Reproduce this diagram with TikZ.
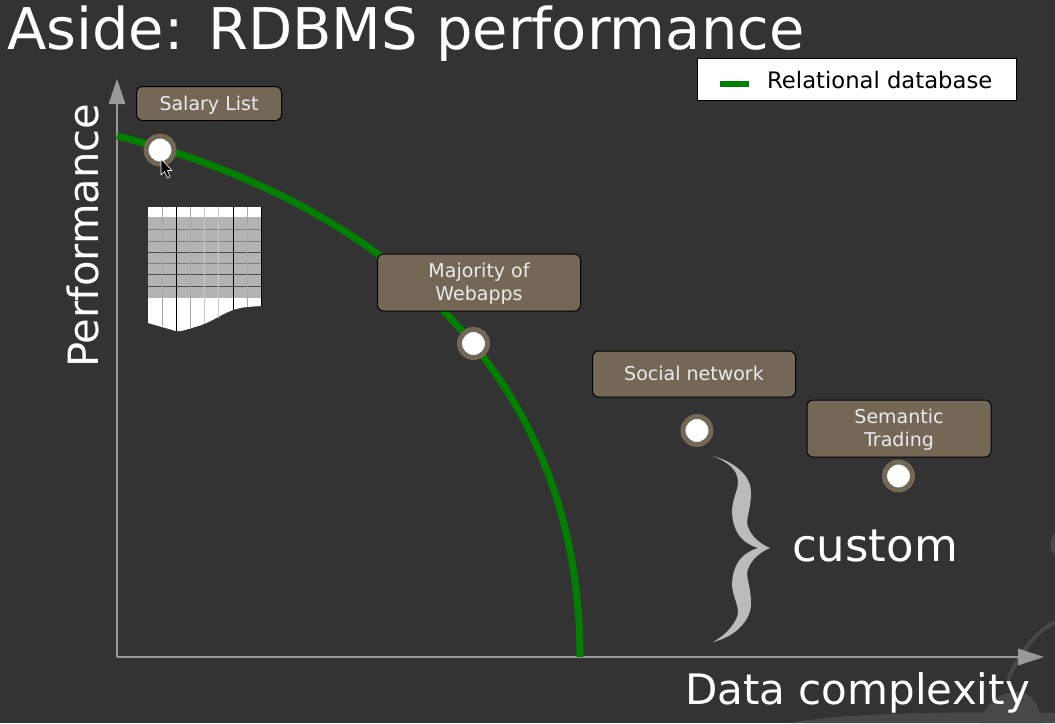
\documentclass[tikz,border=0pt]{standalone}
\usepackage{fontspec}
\setmainfont{DejaVu Sans}
\usetikzlibrary{arrows.meta}
\definecolor{bgc}{HTML}{333333}
\definecolor{boxc}{HTML}{736856}
\definecolor{axisc}{HTML}{999999}
\definecolor{greenc}{HTML}{007F00}
\definecolor{bracec}{HTML}{BBBBBB}
\definecolor{faintc}{HTML}{484848}
\definecolor{tabgray}{HTML}{B3B3B3}
\newcommand\lbltxt[1]{\raisebox{-2pt}[\height][\depth]{\begin{tabular}{@{}c@{}}#1\end{tabular}}}
\tikzset{
  x=1pt,y=-1pt,
  labelbox/.style={draw=black,line width=1pt,fill=boxc,rounded corners=6pt,text=white!92!black,font=\fontsize{19}{23}\selectfont,inner sep=0pt},
  dot/.style={circle,draw=boxc,line width=5pt,fill=white,minimum size=28pt,inner sep=0pt},
  axisline/.style={draw=axisc,line width=2.6pt},
  bigtext/.style={text=white,inner sep=0pt,anchor=base west},
}
\begin{document}
\begin{tikzpicture}
\useasboundingbox (0,0) rectangle (1055,723);
\fill[bgc] (0,0) rectangle (1055,723);
% faint background swirl
\draw[faintc,line width=4pt] (1055,622) .. controls (1035,632) and (1018,655) .. (1008,680);
\fill[faintc] (980,723) .. controls (985,700) and (1005,690) .. (1022,692) .. controls (1035,697) and (1040,708) .. (1042,723) -- cycle;
\fill[faintc] (790,723) .. controls (850,712) and (950,712) .. (1055,713) -- (1055,723) -- cycle;
\fill[faintc] (1055,532) .. controls (1049,540) and (1049,550) .. (1055,556) -- cycle;
% axes
\coordinate (origin) at (117,657);
\coordinate (ytip) at (117,79);
\coordinate (xtip) at (1044,657);
\draw[axisline] (origin) -- (117,100);
\draw[axisline] (origin) -- (1022,657);
\fill[axisc] (ytip) -- (125.5,104) -- (108.5,104) -- cycle;
\fill[axisc] (xtip) -- (1018,648.5) -- (1018,665.5) -- cycle;
% curve
\coordinate (cstart) at (117,136);
\coordinate (cend) at (580,657);
\draw[greenc,line width=7pt] (cstart) .. controls (335,190) and (580,340) .. (cend);
% table
\fill[white] (148,207) -- (261,207) -- (261,306) -- (247,307) .. controls (225,309) and (215,322) .. (195,327) .. controls (185,330) and (180,332) .. (176,331) -- (148,323) -- cycle;
\fill[tabgray] (148,217) rectangle (261,298);
\foreach \yy/\cc in {229/gray,241/gray,252/black!70,263/gray,274/black!70,286/black!70}{
  \draw[\cc,line width=1pt] (148,\yy) -- (261,\yy);
}
\foreach \xx/\yb/\cc in {162/326/gray!70,176/331/black,190/329/gray!70,204/324/gray!45,218/318/gray!45,233/310/black,247/307/gray!70,261/306/black}{
  \draw[\cc,line width=0.9pt] (\xx,207) -- (\xx,\yb);
}
% labels
\node[labelbox,minimum width=145pt,minimum height=34pt] (salary) at (209,103.5) {\lbltxt{Salary List}};
\node[labelbox,minimum width=203pt,minimum height=57pt] (webapps) at (479,282.5) {\lbltxt{Majority of\\Webapps}};
\node[labelbox,minimum width=203pt,minimum height=46pt] (social) at (694,374) {\lbltxt{Social network}};
\node[labelbox,minimum width=184pt,minimum height=57pt] (semantic) at (899,428.5) {\lbltxt{Semantic\\Trading}};
% dots
\node[dot] (d1) at (160,150) {};
\node[dot] (d2) at (473.5,343.5) {};
\node[dot] (d3) at (697,430.5) {};
\node[dot] (d4) at (898.5,476) {};
% cursor
\draw[white,fill=black,line width=0.6pt,line join=round] (161,159) -- (161,175) -- (164.5,171.5) -- (167.5,178) -- (170,176.5) -- (167.5,170.5) -- (172,170.5) -- cycle;
% brace
\fill[bracec] (713,456) .. controls (738,463) and (751,478) .. (751,492) .. controls (751,510) and (745,520) .. (748,527) .. controls (751,535) and (758,543) .. (770,548)
  .. controls (758,553) and (751,561) .. (748,569) .. controls (745,576) and (751,586) .. (751,604) .. controls (751,618) and (738,636) .. (713,642)
  .. controls (728,634) and (738,620) .. (738,612) .. controls (738,604) and (732,594) .. (732,584) .. controls (733,561) and (745,552) .. (758,548)
  .. controls (745,544) and (733,535) .. (732,512) .. controls (732,500) and (738,490) .. (738,482) .. controls (738,470) and (728,462) .. (713,456) -- cycle;
% title and axis texts
\node[bigtext,font=\fontsize{57.5}{59}\selectfont] (title) at (7,49) {Aside: RDBMS performance};
\node[bigtext,font=\fontsize{41.7}{43}\selectfont,rotate=90] (perf) at (98,368) {Performance};
\node[bigtext,font=\fontsize{42}{43}\selectfont] (xlabel) at (685,704) {Data complexity};
\node[bigtext,font=\fontsize{45}{45}\selectfont] (custom) at (792,561) {custom};
% legend
\node[fill=white,draw=black,line width=0.5pt,minimum width=319pt,minimum height=42pt,inner sep=0pt] (legend) at (856.5,79.5) {};
\coordinate (la) at (720,84);
\coordinate (lb) at (749,84);
\draw[greenc,line width=5.5pt] (la) -- (lb);
\node[text=black,inner sep=0pt,anchor=base west,font=\fontsize{22.7}{23}\selectfont] (legtext) at (767,88) {Relational database};
\end{tikzpicture}
\end{document}
